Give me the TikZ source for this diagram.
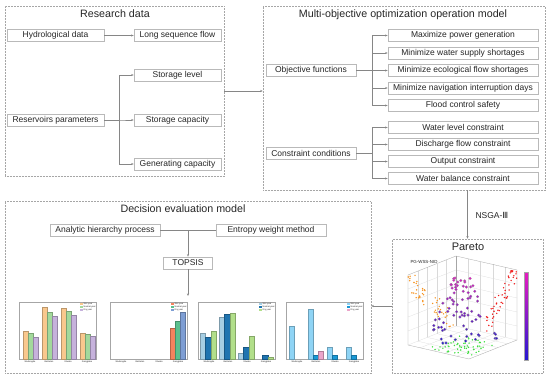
\documentclass[tikz,border=0pt]{standalone}
\usepackage{xcolor}
\usepackage{fontspec}
\setmainfont{Liberation Sans}
\newfontfamily\symfont{DejaVu Sans}
\usepackage{tikz}
\usetikzlibrary{arrows.meta, positioning, calc}

\definecolor{orA}{HTML}{F9C88E}
\definecolor{grA}{HTML}{A3D99C}
\definecolor{puA}{HTML}{C6B2DC}
\definecolor{reB}{HTML}{F5835E}
\definecolor{grB}{HTML}{5CC08E}
\definecolor{blB}{HTML}{7E9ED4}
\definecolor{lbC}{HTML}{A6CEE3}
\definecolor{dbC}{HTML}{1F74B0}
\definecolor{lgC}{HTML}{B2DF8A}
\definecolor{lbD}{HTML}{8FD4F5}
\definecolor{bD}{HTML}{1A98D5}
\definecolor{piD}{HTML}{EBA5CA}
\definecolor{cbtop}{HTML}{E81CC0}
\definecolor{cbbot}{HTML}{2418D0}
\definecolor{dotor}{HTML}{F7931E}
\definecolor{dotre}{HTML}{F01818}
\definecolor{dotgr}{HTML}{3DE03D}
\definecolor{txt}{HTML}{262626}

\begin{document}
\begin{tikzpicture}[
    x=1pt, y=-1pt,
    >=Stealth,
    every node/.style={text=txt},
    panel/.style={rectangle, draw=gray!70, densely dotted, line width=0.5pt, inner sep=0pt},
    item/.style={rectangle, draw=gray!55, fill=white, line width=0.6pt,
                 minimum height=12pt, inner sep=0pt, font=\fontsize{8.5}{10}\selectfont},
    title/.style={font=\fontsize{10.7}{12}\selectfont, inner sep=0pt},
    link/.style={draw=gray!95, line width=0.5pt, -{Stealth[length=2.5pt, width=2pt]}},
    wire/.style={draw=gray!95, line width=0.5pt},
    frame/.style={draw=gray!70, line width=0.3pt},
    bar/.style={fill=#1, draw=#1!75!black, line width=0.2pt},
    tinytext/.style={font=\fontsize{2.2}{2.5}\selectfont, inner sep=0pt},
    grid/.style={draw=gray!30, line width=0.2pt},
    axisline/.style={draw=gray!70, line width=0.3pt}
]
\fill[white] (0,0) rectangle (550,378);
\useasboundingbox (0,0) rectangle (550,378);

\node[panel, minimum width=219pt, minimum height=170pt] (rd) at (114.5,91) {};
\node[title] (rdtitle) at (115,14) {Research data};
\node[item, minimum width=97pt] (hyd) at (55.5,35.5) {Hydrological data};
\node[item, minimum width=87pt] (lsf) at (177.5,35.5) {Long sequence flow};
\node[item, minimum width=97pt] (resv) at (55.5,120) {Reservoirs parameters};
\node[item, minimum width=87pt] (lvl) at (177.5,75) {Storage level};
\node[item, minimum width=87pt] (cap) at (177.5,120) {Storage capacity};
\node[item, minimum width=87pt] (gen) at (177.5,164) {Generating capacity};
\draw[link] (hyd) -- (lsf);
\foreach \t in {lvl,cap,gen}
    \draw[link] (resv.east) -- ++(15,0) |- (\t.west);

\node[panel, minimum width=282pt, minimum height=184pt] (mo) at (404,98) {};
\node[title] (motitle) at (403,15) {Multi-objective optimization operation model};
\node[item, minimum width=90pt] (obj) at (311,70.5) {Objective functions};
\node[item, minimum width=150pt] (pg) at (463,35.5) {Maximize power generation};
\node[item, minimum width=150pt] (wss) at (463,53) {Minimize water supply shortages};
\node[item, minimum width=150pt] (efs) at (463,70.5) {Minimize ecological flow shortages};
\node[item, minimum width=150pt] (nid) at (463,88) {Minimize navigation interruption days};
\node[item, minimum width=150pt] (fcs) at (463,105.5) {Flood control safety};
\foreach \t in {pg,wss,efs,nid,fcs}
    \draw[link] (obj.east) -- ++(16,0) |- (\t.west);
\node[item, minimum width=90pt] (con) at (311,153) {Constraint conditions};
\node[item, minimum width=150pt] (wl) at (463,127.5) {Water level constraint};
\node[item, minimum width=150pt] (dfc) at (463,144.5) {Discharge flow constraint};
\node[item, minimum width=150pt] (oc) at (463,161.5) {Output constraint};
\node[item, minimum width=150pt] (wb) at (463,178.5) {Water balance constraint};
\foreach \t in {wl,dfc,oc,wb}
    \draw[link] (con.east) -- ++(16,0) |- (\t.west);

\draw[link] (rd.east) -- (rd.east -| mo.west);

\node[panel, minimum width=151pt, minimum height=134pt] (pa) at (467.5,306) {};
\node[title, font=\fontsize{11}{12}\selectfont] (patitle) at (468,247) {Pareto};
\draw[link] (mo.south -| pa.north) -- (pa.north);
\node[anchor=west, font=\fontsize{8.5}{10}\selectfont] (nsga) at (472,215) {NSGA-{\symfont Ⅲ}};

\node[panel, minimum width=366pt, minimum height=172pt] (de) at (188,287) {};
\node[title] (detitle) at (183,209) {Decision evaluation model};
\node[item, minimum width=110pt] (ahp) at (105,230) {Analytic hierarchy process};
\node[item, minimum width=110pt] (ewm) at (271,230) {Entropy weight method};
\node[item, minimum width=49pt] (topsis) at (188,263) {TOPSIS};
\coordinate (join) at (188,230);
\coordinate (charts) at (188,296);
\draw[wire] (ahp) -- (ewm);
\draw[link] (join) -- (topsis);
\draw[link] (topsis) -- (charts);
\draw[link] (pa.west) -- (pa.west -| de.east);

% bar charts
\foreach \xL/\ca/\cb/\cc in {19/orA/grA/puA, 110/reB/grB/blB, 198/lbC/dbC/lgC, 286/lbD/bD/piD} {
    \draw[frame] (\xL,302) rectangle (\xL+77,359);
    \foreach \k in {1,...,4}
        \draw[frame] (\xL,359-\k*14) -- ++(1.2,0);
    \foreach \n [count=\k] in {Wudongde,Baihetan,Xiluodu,Xiangjiaba}
        \node[tinytext] at (\xL+11+19*\k-19,361.5) {\n};
    \foreach \c/\t [count=\k] in {\ca/Wet year,\cb/Normal year,\cc/Dry year} {
        \fill[\c] (\xL+61,302.5+2.8*\k) rectangle ++(3,-2.2);
        \node[tinytext, anchor=west] at (\xL+64.5,301.4+2.8*\k) {\t};
    }
}
\foreach \x/\h/\c in {23/331/orA, 28/333/grA, 33/337/puA, 42/307/orA, 47/312/grA, 52/316/puA,
                      61/308/orA, 66/311/grA, 71/315/puA, 80/333/orA, 85/334/grA, 90/336/puA}
    \filldraw[bar=\c] (\x,359) rectangle (\x+5,\h);
\foreach \x/\h/\c in {170/328/reB, 175/321/grB, 180/312/blB}
    \filldraw[bar=\c] (\x,359) rectangle (\x+5,\h);
\foreach \x/\h/\c in {200/333/lbC, 205.5/337/dbC, 211/331/lgC, 219/317/lbC, 224.5/314/dbC, 230/313/lgC,
                      238/353/lbC, 243.5/347/dbC, 249/336/lgC, 262.5/355/dbC, 268/357/lgC}
    \filldraw[bar=\c] (\x,359) rectangle (\x+5.5,\h);
\foreach \x/\h/\c in {289/326/lbD, 308/309/lbD, 313/355/bD, 318/351/piD,
                      327/347/lbD, 332/355/bD, 346/347/lbD, 351/355/bD}
    \filldraw[bar=\c] (\x,359) rectangle (\x+5,\h);

% pareto front plot
\coordinate (p0) at (456,326);
\coordinate (pl) at (408,345);
\coordinate (pr) at (517,340);
\coordinate (pf) at (469,359);
\foreach \t in {0.2,0.4,0.6,0.8} {
    \draw[grid] ($(p0)!\t!(pl)$) -- ++(0,-70);
    \draw[grid] ($(p0)!\t!(pr)$) -- ++(0,-70);
    \draw[grid] ($(p0)!\t!(pl)$) -- ($(pr)!\t!(pf)$);
    \draw[grid] ($(p0)!\t!(pr)$) -- ($(pl)!\t!(pf)$);
}
\foreach \v in {14,28,42,56}
    \draw[grid] ($(pl)+(0,-\v)$) -- ($(p0)+(0,-\v)$) -- ($(pr)+(0,-\v)$);
\draw[axisline] ($(pl)+(0,-70)$) -- (pl) -- (pf) -- (pr) -- ++(0,-70);
\draw[axisline] ($(pl)+(0,-70)$) -- ($(p0)+(0,-70)$) -- ($(pr)+(0,-70)$);
\draw[axisline] (p0) -- ++(0,-70);
\draw[grid] (pl) -- (p0) -- (pr);
\node[font=\fontsize{4.4}{5}\selectfont, inner sep=0pt] (pglabel) at (424,262) {PG-WSS-NID};

\pgfmathsetseed{11}
\foreach \i in {1,...,50} {
    \pgfmathsetmacro\u{rnd}
    \pgfmathsetmacro\v{max(0.03,min(0.97,0.95*(1-\u)+0.35*(rnd-0.5)))}
    \fill[dotor] ($(pl)!\u!(p0)+(0,-70*\v)$) circle (0.8);
}
\foreach \i in {1,...,50} {
    \pgfmathsetmacro\u{0.5+0.5*rnd}
    \pgfmathsetmacro\v{max(0.03,min(0.97,1.9*(\u-0.5)+0.1+0.35*(rnd-0.5)))}
    \fill[dotre] ($(p0)!\u!(pr)+(0,-70*\v)$) circle (0.8);
}
\foreach \i in {1,...,60} {
    \pgfmathsetmacro\a{0.3+0.65*rnd}
    \pgfmathsetmacro\b{0.3+0.65*rnd}
    \fill[dotgr] ($(p0)!\a!(pl)+(p0)!\b!(pr)-(p0)$) circle (0.8);
}
\foreach \i in {1,...,80} {
    \pgfmathsetmacro\yy{278+66*rnd}
    \pgfmathsetmacro\xx{462+(8+30*(\yy-278)/66)*(rnd-0.5)*2}
    \pgfmathtruncatemacro\m{max(0,min(100,100*(345-\yy)/70))}
    \filldraw[fill=cbtop!\m!cbbot, draw=black!40, line width=0.15pt] (\xx,\yy) circle (1.4);
}
\shade[top color=cbtop, bottom color=cbbot] (524,272) rectangle (528,360);
\draw[frame] (524,272) rectangle (528,360);
\foreach \k in {0,...,8}
    \draw[frame] (528,272+11*\k) -- ++(1,0);
\end{tikzpicture}
\end{document}
